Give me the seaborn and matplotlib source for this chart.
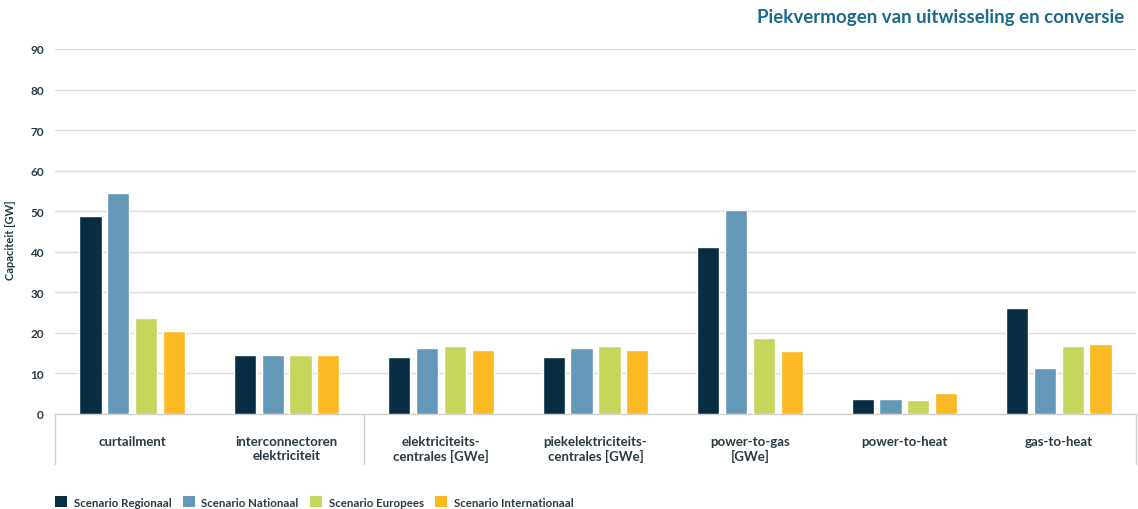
import matplotlib
matplotlib.use("Agg")
import matplotlib.pyplot as plt
import matplotlib.transforms as mtransforms
from matplotlib.patches import Patch
import seaborn as sns
import pandas as pd

categories = [
    "curtailment",
    "interconnectoren\nelektriciteit",
    "elektriciteits-\ncentrales [GWe]",
    "piekelektriciteits-\ncentrales [GWe]",
    "power-to-gas\n[GWe]",
    "power-to-heat",
    "gas-to-heat",
]
scenarios = ["Scenario Regionaal", "Scenario Nationaal", "Scenario Europees", "Scenario Internationaal"]
regionaal = [48.7, 14.5, 14.0, 14.0, 41.3, 3.6, 26.1]
nationaal = [54.5, 14.5, 16.2, 16.2, 50.3, 3.6, 11.4]
europees = [23.6, 14.5, 16.7, 16.7, 18.8, 3.5, 16.7]
internationaal = [20.4, 14.5, 15.7, 15.7, 15.6, 5.1, 17.2]
yticks = [0, 10, 20, 30, 40, 50, 60, 70, 80, 90]

colors = ["#062d42", "#6498b9", "#c6d65c", "#fbb924"]

rows = []
for name, vals in zip(scenarios, [regionaal, nationaal, europees, internationaal]):
    for c, v in zip(categories, vals):
        rows.append({"categorie": c, "scenario": name, "waarde": v})
df = pd.DataFrame(rows)

sns.set_theme(style="white")
plt.rcParams["font.family"] = ["Lato", "DejaVu Sans"]

fig = plt.figure(figsize=(11.38, 5.10), dpi=100)
ax = fig.add_axes([55 / 1138, 1 - 415 / 510, (1136 - 55) / 1138, 365 / 510])

sns.barplot(data=df, x="categorie", y="waarde", hue="scenario", order=categories,
            hue_order=scenarios, palette=colors, width=0.72, gap=0.2,
            saturation=1, legend=False, ax=ax, zorder=3)

ax.set_ylim(0, 90)
ax.set_xlim(-0.5, len(categories) - 0.5)
ax.set_yticks(yticks)
ax.yaxis.grid(True, color="#dcdcdc", linewidth=1.0, zorder=0)
ax.xaxis.grid(False)
for s in ["left", "top", "right"]:
    ax.spines[s].set_visible(False)
ax.spines["bottom"].set_color("#d0d0d0")
ax.spines["bottom"].set_linewidth(1.0)
ax.tick_params(axis="both", length=0)
ax.tick_params(axis="y", pad=8, labelsize=8.5, labelcolor="#2b3a42")
ax.tick_params(axis="x", pad=15, labelsize=9.5, labelcolor="#2b3a42")
for lab in ax.get_yticklabels() + ax.get_xticklabels():
    lab.set_fontweight("bold")
ax.set_xlabel("")
ax.set_ylabel("Capaciteit [GW]", fontsize=8, fontweight="bold", color="#1e3a4a")
ax.yaxis.set_label_coords(-0.036, 0.48)

# group separators below the axis
trans = mtransforms.blended_transform_factory(ax.transData, ax.transAxes)
for xb in [-0.5, 1.5, len(categories) - 0.5]:
    ax.plot([xb, xb], [0, -0.137], transform=trans, color="#d0d0d0", linewidth=1.0, clip_on=False)

fig.text(1124 / 1138, 1 - 18 / 510, "Piekvermogen van uitwisseling en conversie", ha="right", va="center",
         fontsize=13.5, fontweight="bold", color="#1b6a8b")

handles = [Patch(facecolor=c, edgecolor="none") for c in colors]
fig.legend(handles, scenarios, loc="center left", bbox_to_anchor=(45 / 1138, 1 - 503 / 510), ncol=4,
           frameon=False, handlelength=1.0, handleheight=1.0, handletextpad=0.6,
           columnspacing=1.0, prop={"weight": "bold", "size": 8.3})
for t in fig.legends[0].get_texts():
    t.set_color("#2b3a42")

fig.savefig("out.png", dpi=100)
